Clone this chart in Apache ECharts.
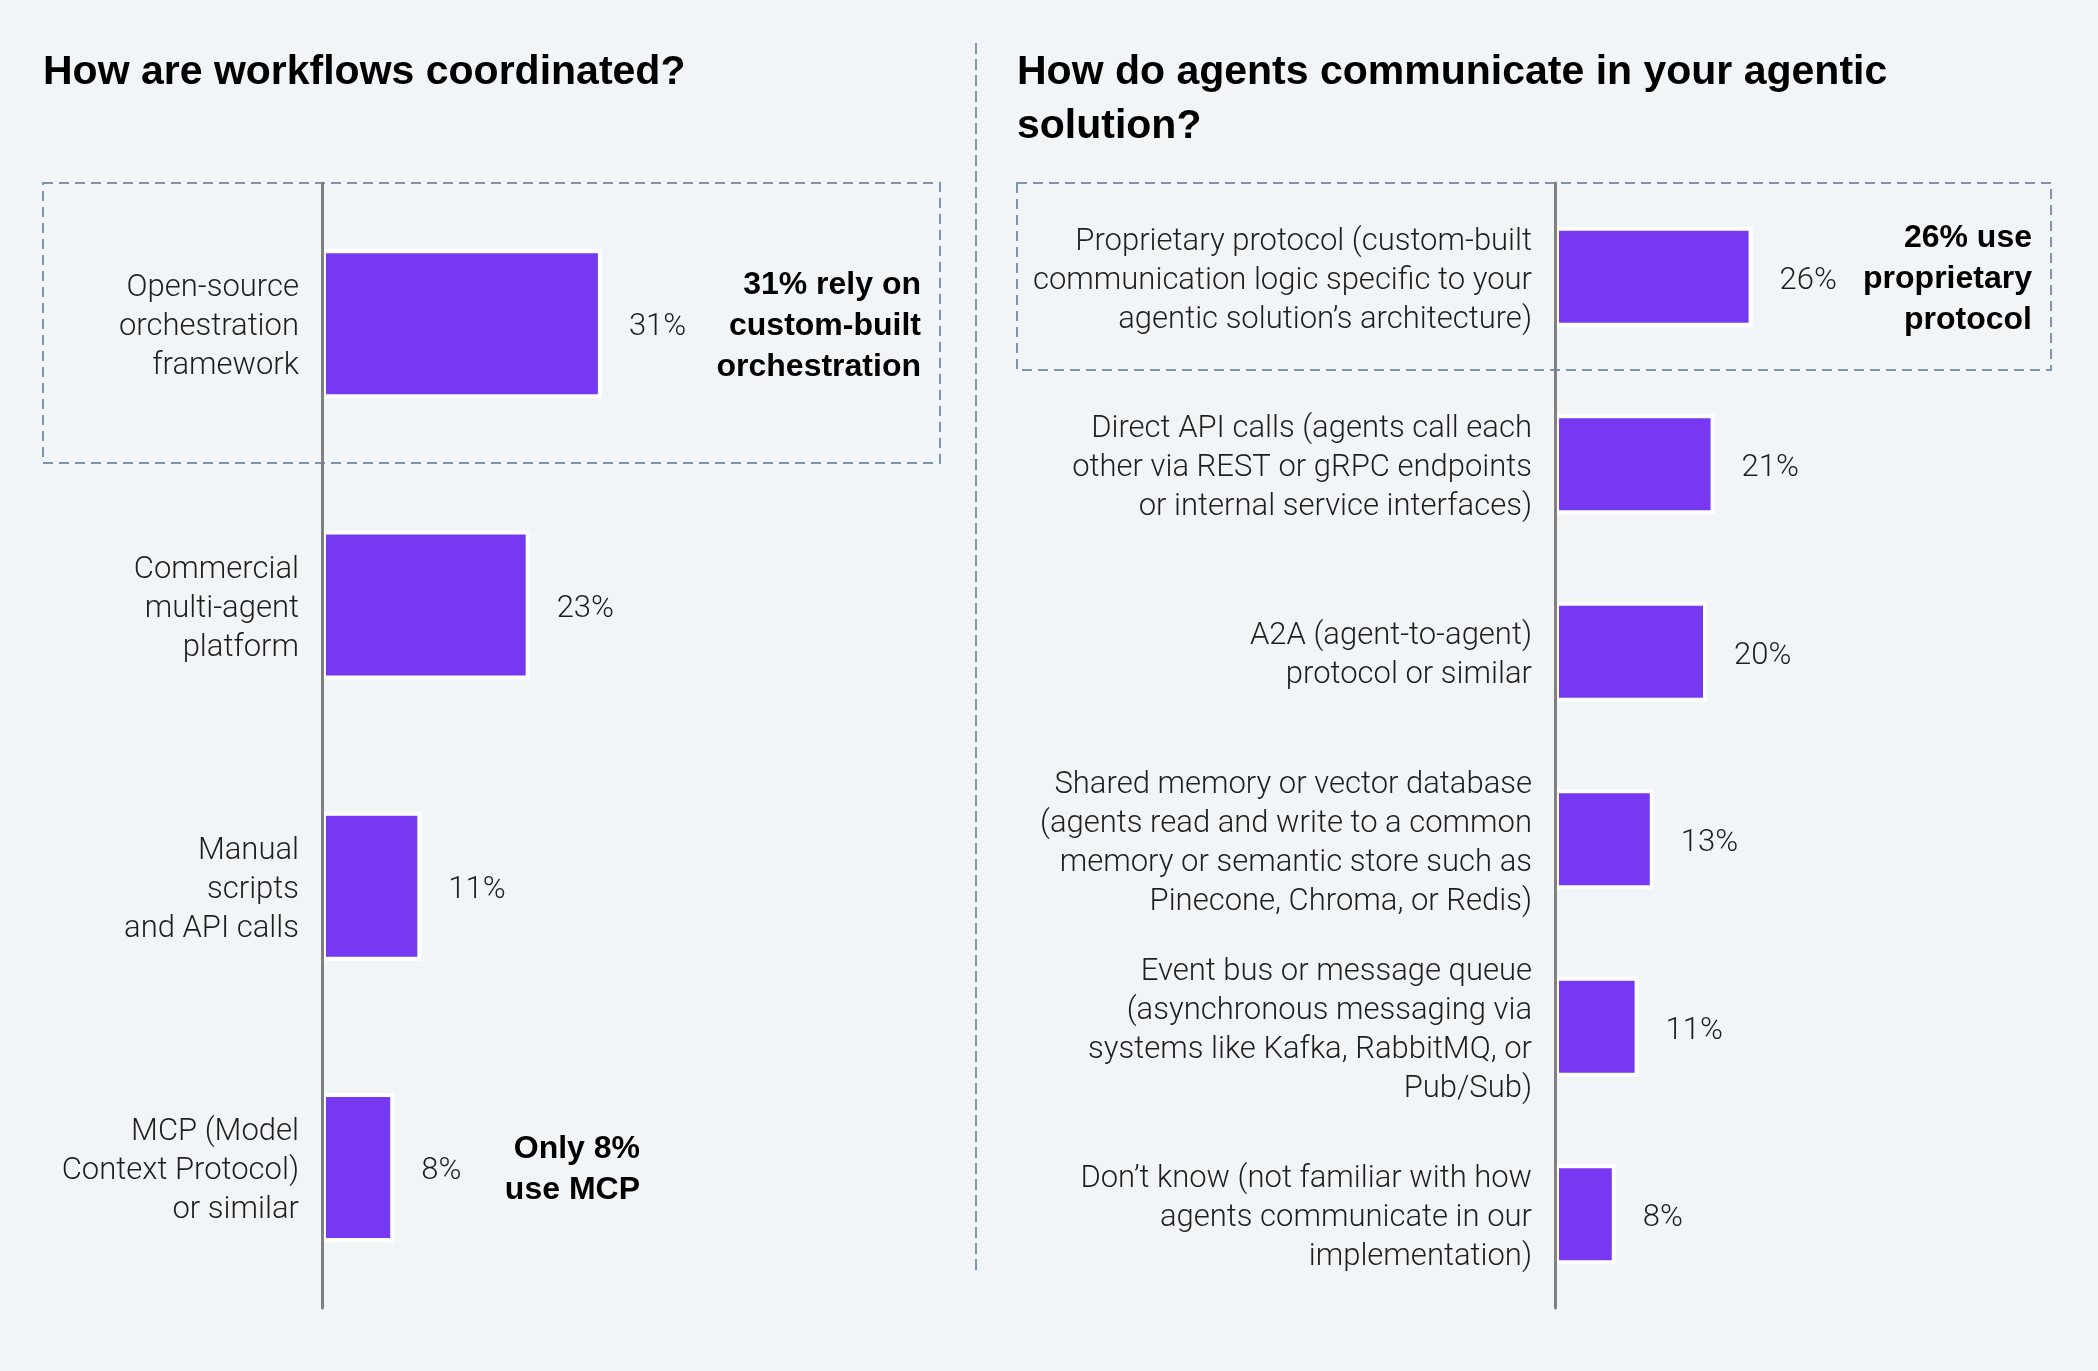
<!DOCTYPE html>
<html>
<head>
<meta charset="utf-8">
<title>Agentic workflows</title>
<script src="https://cdn.jsdelivr.net/npm/echarts@6/dist/echarts.min.js"></script>
<style>
  html, body { margin: 0; padding: 0; background: #f2f5f8; }
  #chart { width: 2098px; height: 1371px; }
</style>
</head>
<body>
<div id="chart"></div>
<script>
// left panel
const leftTitle = 'How are workflows coordinated?';
const leftCategories = [
  'Open-source\norchestration\nframework',
  'Commercial\nmulti-agent\nplatform',
  'Manual\nscripts\nand API calls',
  'MCP (Model\nContext Protocol)\nor similar'
];
const leftValues = [31, 23, 11, 8];
const leftNotes = ['31% rely on\ncustom-built\norchestration', 'Only 8%\nuse MCP'];

// right panel
const rightTitle = 'How do agents communicate in your agentic\nsolution?';
const rightCategories = [
  'Proprietary protocol (custom-built\ncommunication logic specific to your\nagentic solution\u2019s architecture)',
  'Direct API calls (agents call each\nother via REST or gRPC endpoints\nor internal service interfaces)',
  'A2A (agent-to-agent)\nprotocol or similar',
  'Shared memory or vector database\n(agents read and write to a common\nmemory or semantic store such as\nPinecone, Chroma, or Redis)',
  'Event bus or message queue\n(asynchronous messaging via\nsystems like Kafka, RabbitMQ, or\nPub/Sub)',
  'Don\u2019t know (not familiar with how\nagents communicate in our\nimplementation)'
];
const rightValues = [26, 21, 20, 13, 11, 8];
const rightNotes = ['26% use\nproprietary\nprotocol'];

const purple = '#7638f0';
const dashBlue = '#7d93b0';
const textDark = '#1e1e1e';
const lightFont = 'Roboto, "Liberation Sans", sans-serif';
const boldFont = '"Liberation Sans", Arial, sans-serif';

const chart = echarts.init(document.getElementById('chart'));

function yAxisFor(idx, cats) {
  return {
    type: 'category',
    gridIndex: idx,
    inverse: true,
    data: cats,
    z: 5,
    axisLine: { show: true, lineStyle: { color: '#808080', width: 3 } },
    axisTick: { show: false },
    axisLabel: {
      margin: 23,
      color: textDark,
      align: 'right',
      // shift the text block down a little so it sits level with the bar
      formatter: function (v) {
        return '{pad|}\n' + v.split('\n').map(function (s) { return '{t|' + s + '}'; }).join('\n');
      },
      rich: {
        pad: { height: 8, lineHeight: 8 },
        t: {
          fontFamily: lightFont,
          fontWeight: 300,
          fontSize: 31,
          lineHeight: 39,
          color: textDark,
          align: 'right'
        }
      }
    }
  };
}

function xAxisFor(idx, max) {
  return {
    type: 'value',
    gridIndex: idx,
    min: 0,
    max: max,
    show: false
  };
}

function barSeries(idx, values, width) {
  return {
    type: 'bar',
    xAxisIndex: idx,
    yAxisIndex: idx,
    data: values,
    barWidth: width,
    itemStyle: { color: purple, borderColor: '#ffffff', borderWidth: 4 },
    label: {
      show: true,
      position: 'right',
      distance: 27,
      offset: [0, 4],
      formatter: '{c}%',
      fontFamily: lightFont,
      fontWeight: 300,
      fontSize: 31,
      color: textDark
    },
    silent: true
  };
}

function note(text, right, cy) {
  return {
    type: 'text',
    x: right,
    y: cy,
    style: {
      text: text,
      align: 'right',
      verticalAlign: 'middle',
      font: 'bold 32px ' + boldFont,
      lineHeight: 41,
      fill: '#000'
    }
  };
}

const option = {
  backgroundColor: '#f2f5f8',
  animation: false,
  grid: [
    { left: 322, top: 183, width: 632, height: 1125 },
    { left: 1555, top: 183, width: 456, height: 1125 }
  ],
  xAxis: [xAxisFor(0, 70), xAxisFor(1, 60)],
  yAxis: [yAxisFor(0, leftCategories), yAxisFor(1, rightCategories)],
  series: [barSeries(0, leftValues, 149), barSeries(1, rightValues, 100)],
  graphic: [
    {
      type: 'text', x: 43, y: 73,
      style: { text: leftTitle, font: 'bold 41px ' + boldFont, fill: '#000', verticalAlign: 'middle' }
    },
    {
      type: 'text', x: 1017, y: 70,
      style: { text: rightTitle, font: 'bold 41px ' + boldFont, fill: '#000', verticalAlign: 'top', lineHeight: 54 },
      top: 46
    },
    {
      type: 'line',
      shape: { x1: 976, y1: 43, x2: 976, y2: 1270 },
      style: { stroke: dashBlue, lineWidth: 2, lineDash: [11, 5] }
    },
    {
      type: 'rect',
      shape: { x: 43, y: 183, width: 897, height: 280 },
      style: { fill: 'none', stroke: dashBlue, lineWidth: 2, lineDash: [10, 6] }
    },
    {
      type: 'rect',
      shape: { x: 1017, y: 183, width: 1034, height: 187 },
      style: { fill: 'none', stroke: dashBlue, lineWidth: 2, lineDash: [10, 6] }
    },
    note(leftNotes[0], 921, 326),
    note(leftNotes[1], 640, 1170),
    note(rightNotes[0], 2032, 279)
  ]
};

chart.setOption(option);
</script>
</body>
</html>
